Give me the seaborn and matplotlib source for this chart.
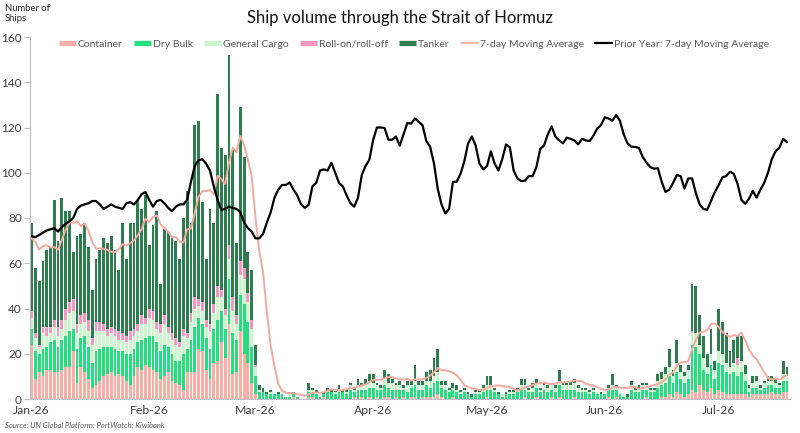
import numpy as np
import pandas as pd
import matplotlib
matplotlib.use("Agg")
import matplotlib.pyplot as plt
import matplotlib.dates as mdates
from matplotlib.lines import Line2D
import seaborn as sns

# ---------------- data (daily, from 1 Jan 2026) ----------------
start_date = "2026-01-01"

container = [
    24, 9, 12, 10, 13, 13, 12, 12, 13, 14,
    14, 21, 7, 14, 12, 9, 5, 6, 8, 10,
    11, 12, 10, 11, 10, 8, 6, 10, 14, 13,
    15, 14, 13, 12, 9, 10, 12, 8, 7, 6,
    4, 12, 12, 12, 22, 21, 13, 9, 16, 17,
    25, 18, 33, 11, 12, 30, 20, 16, 7, 2,
    0, 0, 0, 0, 0, 0, 0, 0, 0, 1,
    0, 0, 0, 1, 1, 0, 0, 1, 0, 0,
    0, 0, 0, 0, 0, 1, 0, 1, 0, 1,
    0, 1, 0, 1, 1, 0, 1, 0, 1, 0,
    1, 1, 0, 1, 1, 1, 1, 2, 1, 0,
    0, 1, 0, 0, 0, 0, 0, 0, 0, 0,
    1, 0, 0, 0, 0, 0, 0, 0, 0, 0,
    1, 0, 0, 1, 0, 0, 0, 1, 0, 1,
    0, 0, 0, 1, 0, 0, 0, 0, 0, 0,
    0, 0, 1, 0, 1, 0, 0, 0, 0, 0,
    0, 0, 1, 0, 0, 0, 1, 1, 2, 1,
    3, 2, 1, 2, 4, 3, 6, 4, 3, 5,
    2, 4, 3, 2, 2, 2, 2, 2, 2, 1,
    2, 2, 2, 2, 2, 3, 2, 2, 3, 3,
]

dry_bulk = [
    7, 12, 8, 12, 10, 12, 14, 11, 13, 14,
    16, 10, 15, 13, 16, 14, 11, 15, 14, 13,
    12, 11, 12, 10, 11, 12, 14, 12, 11, 13,
    12, 14, 15, 13, 12, 14, 11, 12, 10, 11,
    16, 10, 14, 20, 14, 12, 14, 13, 15, 18,
    14, 13, 20, 18, 14, 16, 22, 18, 16, 8,
    3, 3, 2, 2, 2, 2, 2, 1, 1, 1,
    1, 0, 0, 2, 2, 2, 1, 1, 3, 3,
    2, 3, 3, 2, 4, 2, 4, 3, 4, 4,
    5, 3, 4, 5, 4, 4, 3, 4, 3, 3,
    4, 5, 4, 3, 5, 4, 6, 6, 4, 4,
    3, 3, 3, 2, 3, 2, 1, 2, 2, 3,
    3, 4, 3, 2, 1, 2, 2, 2, 3, 4,
    3, 3, 3, 4, 3, 4, 3, 3, 3, 5,
    4, 4, 4, 3, 3, 3, 3, 2, 3, 2,
    2, 2, 3, 4, 3, 2, 1, 1, 4, 3,
    3, 4, 3, 3, 3, 5, 5, 6, 8, 6,
    9, 7, 6, 7, 20, 20, 14, 9, 8, 10,
    7, 12, 12, 10, 9, 10, 8, 10, 6, 2,
    3, 3, 2, 3, 4, 3, 3, 3, 5, 5,
]

general_cargo = [
    5, 6, 3, 7, 5, 4, 6, 5, 5, 7,
    8, 8, 7, 6, 6, 7, 8, 9, 8, 7,
    5, 6, 6, 5, 5, 5, 6, 6, 5, 7,
    6, 8, 7, 6, 8, 9, 6, 6, 7, 6,
    8, 5, 8, 8, 5, 6, 5, 8, 7, 10,
    6, 6, 9, 10, 7, 9, 11, 9, 8, 4,
    1, 0, 0, 1, 0, 0, 0, 0, 1, 0,
    0, 0, 0, 1, 1, 1, 1, 0, 1, 0,
    1, 1, 0, 1, 2, 1, 2, 2, 2, 3,
    2, 2, 1, 3, 2, 3, 2, 2, 1, 3,
    1, 2, 2, 2, 2, 3, 3, 4, 1, 2,
    1, 1, 1, 1, 1, 0, 0, 1, 1, 2,
    2, 2, 1, 0, 1, 0, 1, 1, 1, 2,
    2, 1, 2, 2, 1, 2, 2, 2, 2, 2,
    2, 2, 2, 3, 2, 1, 1, 1, 1, 1,
    0, 1, 1, 2, 1, 1, 1, 0, 2, 1,
    2, 2, 2, 1, 1, 3, 3, 4, 4, 3,
    4, 3, 3, 4, 5, 6, 4, 5, 3, 5,
    4, 5, 5, 4, 3, 4, 5, 5, 3, 2,
    2, 3, 1, 2, 2, 2, 2, 1, 3, 2,
]

roro = [
    3, 2, 1, 3, 4, 3, 3, 4, 4, 5,
    5, 5, 4, 4, 4, 5, 3, 4, 4, 3,
    3, 3, 3, 4, 3, 3, 4, 3, 3, 4,
    3, 4, 4, 3, 4, 4, 3, 3, 3, 2,
    3, 2, 4, 5, 3, 4, 3, 3, 4, 5,
    3, 3, 6, 6, 4, 6, 5, 4, 4, 1,
    0, 0, 0, 0, 0, 0, 0, 0, 0, 0,
    0, 0, 0, 0, 0, 0, 0, 0, 0, 0,
    0, 0, 0, 0, 0, 0, 0, 0, 0, 0,
    0, 0, 0, 0, 0, 0, 0, 0, 0, 0,
    0, 0, 0, 0, 0, 0, 0, 0, 0, 0,
    0, 0, 0, 0, 0, 0, 0, 0, 0, 0,
    0, 0, 0, 0, 0, 0, 0, 0, 0, 0,
    0, 0, 0, 0, 0, 0, 0, 0, 0, 0,
    0, 0, 0, 0, 0, 0, 0, 0, 0, 0,
    0, 0, 0, 0, 0, 0, 0, 0, 0, 0,
    0, 0, 0, 0, 0, 0, 0, 0, 0, 0,
    0, 0, 0, 0, 1, 0, 0, 0, 0, 0,
    0, 0, 0, 0, 0, 0, 3, 0, 0, 0,
    0, 0, 0, 0, 0, 0, 0, 0, 0, 0,
]

tanker = [
    39, 29, 28, 29, 34, 35, 53, 38, 54, 43,
    40, 21, 39, 36, 40, 32, 21, 28, 32, 38,
    38, 40, 35, 27, 49, 34, 48, 47, 55, 47,
    54, 28, 38, 49, 18, 38, 42, 43, 43, 37,
    49, 63, 40, 76, 79, 44, 27, 51, 36, 85,
    63, 68, 84, 65, 32, 68, 49, 18, 22, 9,
    2, 2, 1, 1, 0, 1, 0, 0, 1, 1,
    0, 0, 0, 3, 1, 1, 0, 1, 1, 1,
    1, 2, 1, 1, 1, 1, 3, 1, 3, 3,
    4, 1, 1, 4, 4, 2, 1, 2, 1, 2,
    2, 7, 2, 2, 4, 5, 8, 10, 2, 2,
    1, 2, 2, 1, 1, 1, 1, 1, 1, 1,
    4, 4, 1, 1, 0, 1, 1, 1, 1, 3,
    3, 1, 2, 2, 1, 1, 1, 1, 1, 5,
    1, 1, 2, 2, 1, 1, 1, 1, 1, 0,
    1, 0, 1, 5, 1, 0, 0, 1, 2, 1,
    1, 1, 1, 1, 1, 3, 3, 3, 8, 3,
    10, 3, 2, 2, 21, 21, 13, 10, 6, 11,
    4, 19, 14, 13, 7, 10, 10, 11, 4, 1,
    3, 2, 1, 1, 2, 2, 2, 1, 6, 4,
]

# 7-day moving average for the first six days (window reaches back into 2025)
ma_start = [71, 69.5, 66, 67.5, 68, 67]

prior_year_ma = [
    72, 71.5, 72.5, 73.5, 74.5, 75, 75.5, 74, 76, 77.5,
    78.5, 80, 84, 85.5, 86, 86.5, 87.5, 87.5, 86, 84,
    85, 86, 85, 84.5, 84, 86.5, 87, 86, 88, 90.5,
    91.5, 88, 85, 87.5, 88, 86.5, 84.5, 83, 85, 86,
    86, 88, 96, 103, 105.5, 106, 104, 101, 94, 88,
    83.6, 84, 85, 84.5, 84, 82.5, 78, 75.5, 74, 71,
    71, 73, 78, 82.5, 89, 92.5, 94.6, 94.6, 95.7, 92.5,
    90, 86, 84.5, 85.8, 94, 95.5, 101, 101.5, 101, 104.4,
    100, 95.5, 94, 90, 86.6, 85, 89, 99, 103, 105.8,
    114.6, 120, 120, 119.8, 114.6, 114.6, 116, 112, 117, 122,
    121.7, 124, 122.5, 121, 114, 111.5, 104.3, 93, 86, 82,
    84, 96, 96, 99.5, 105, 113, 116, 112, 104, 101.5,
    103, 109.5, 104, 101, 106, 112.5, 111.3, 101, 97.5, 96.3,
    96.5, 98.5, 98.5, 102.5, 110.5, 112, 117, 120.5, 116, 114.3,
    113, 115.5, 115, 114.3, 112.5, 115, 114.3, 114, 116.3, 119.5,
    121, 124.5, 124, 123, 125.5, 123, 117, 113, 111.5, 111.4,
    111, 107, 104.5, 102.5, 101.8, 102, 96, 91.5, 92.5, 95.5,
    99, 98.5, 93, 97.5, 97.5, 91, 86, 84, 83.6, 87.5,
    91.5, 94.5, 98, 98.5, 100.5, 99.5, 95, 88, 86.3, 88.5,
    92, 89, 92.5, 95.5, 100, 106, 109.5, 111, 115, 113.5,
]

categories = ["Container", "Dry Bulk", "General Cargo", "Roll-on/roll-off", "Tanker"]
cat_colors = ["#F7AFA6", "#23DF7E", "#C9F7CB", "#F596C3", "#2E7D4F"]
ma_color = "#F4A9A0"
prior_color = "#000000"

# ---------------- build tables ----------------
series = dict(zip(categories, [container, dry_bulk, general_cargo, roro, tanker]))
n = len(container)
dates = pd.date_range(start_date, periods=n, freq="D")
xnum = mdates.date2num(dates)

long = pd.concat(
    [pd.DataFrame({"day": xnum, "ships": vals, "type": cat}) for cat, vals in series.items()],
    ignore_index=True,
)
total = pd.Series(np.sum([np.array(v) for v in series.values()], axis=0), dtype=float)
ma = total.rolling(7).mean()
ma.iloc[: len(ma_start)] = ma_start

# ---------------- plot ----------------
sns.set_theme(style="white")
plt.rcParams["font.family"] = ["Lato", "DejaVu Sans"]

fig = plt.figure(figsize=(8, 4.33), dpi=100)
ax = fig.add_axes([30 / 800, 1 - 399 / 433, 760 / 800, 362 / 433])

stack_order = categories[::-1]  # seaborn stacks first hue level on top
palette = dict(zip(categories, cat_colors))
sns.histplot(
    data=long, x="day", weights="ships", hue="type", hue_order=stack_order,
    palette=palette, multiple="stack", discrete=True, shrink=0.74,
    element="bars", fill=True, alpha=1, linewidth=0, edgecolor="none",
    legend=False, ax=ax,
)

sns.lineplot(x=xnum, y=ma.values, color=ma_color, linewidth=1.4, ax=ax)
sns.lineplot(x=xnum, y=prior_year_ma, color=prior_color, linewidth=1.6, ax=ax)

ax.set_xlim(xnum[0] - 0.4, xnum[-1] + 0.8)
ax.set_ylim(0, 160)
ax.set_yticks(range(0, 161, 20))
ax.set_xlabel("")
ax.set_ylabel("")
ax.xaxis.set_major_locator(mdates.MonthLocator())
ax.xaxis.set_major_formatter(mdates.DateFormatter("%b-%y"))

for side in ["top", "right"]:
    ax.spines[side].set_visible(False)
for side in ["left", "bottom"]:
    ax.spines[side].set_color("#BFBFBF")
    ax.spines[side].set_linewidth(0.8)
ax.tick_params(axis="y", which="major", length=4, width=0.8, color="#BFBFBF",
               labelsize=8.5, labelcolor="#404040", pad=2, left=True)
ax.tick_params(axis="x", which="major", length=0, labelsize=8.8,
               labelcolor="#404040", pad=4)

# legend
handles = [Line2D([0], [0], color=c, lw=3.8, solid_capstyle="butt") for c in cat_colors]
handles += [Line2D([0], [0], color=ma_color, lw=1.2),
            Line2D([0], [0], color=prior_color, lw=1.6)]
labels = categories + ["7-day Moving Average", "Prior Year: 7-day Moving Average"]
leg = fig.legend(handles, labels, loc="center", bbox_to_anchor=(414 / 800, 1 - 44 / 433),
                 ncol=7, frameon=False, fontsize=7.5, handlelength=1.6,
                 handletextpad=0.2, columnspacing=1.1, borderaxespad=0)
for t in leg.get_texts():
    t.set_color("#595959")

fig.text(400 / 800, 1 - 18 / 433, "Ship volume through the Strait of Hormuz",
         ha="center", va="center", fontsize=12, color="#111111")
fig.text(5 / 800, 1 - 4 / 433, "Number of\nShips", ha="left", va="top",
         fontsize=6.8, color="#262626", linespacing=1.15)
fig.text(5 / 800, 1 - 425 / 433, "Source: UN Global Platform; PortWatch; Kiwibank",
         ha="left", va="center", fontsize=5.5, style="italic", color="#595959")

fig.savefig("out.png", dpi=100, facecolor="white")
